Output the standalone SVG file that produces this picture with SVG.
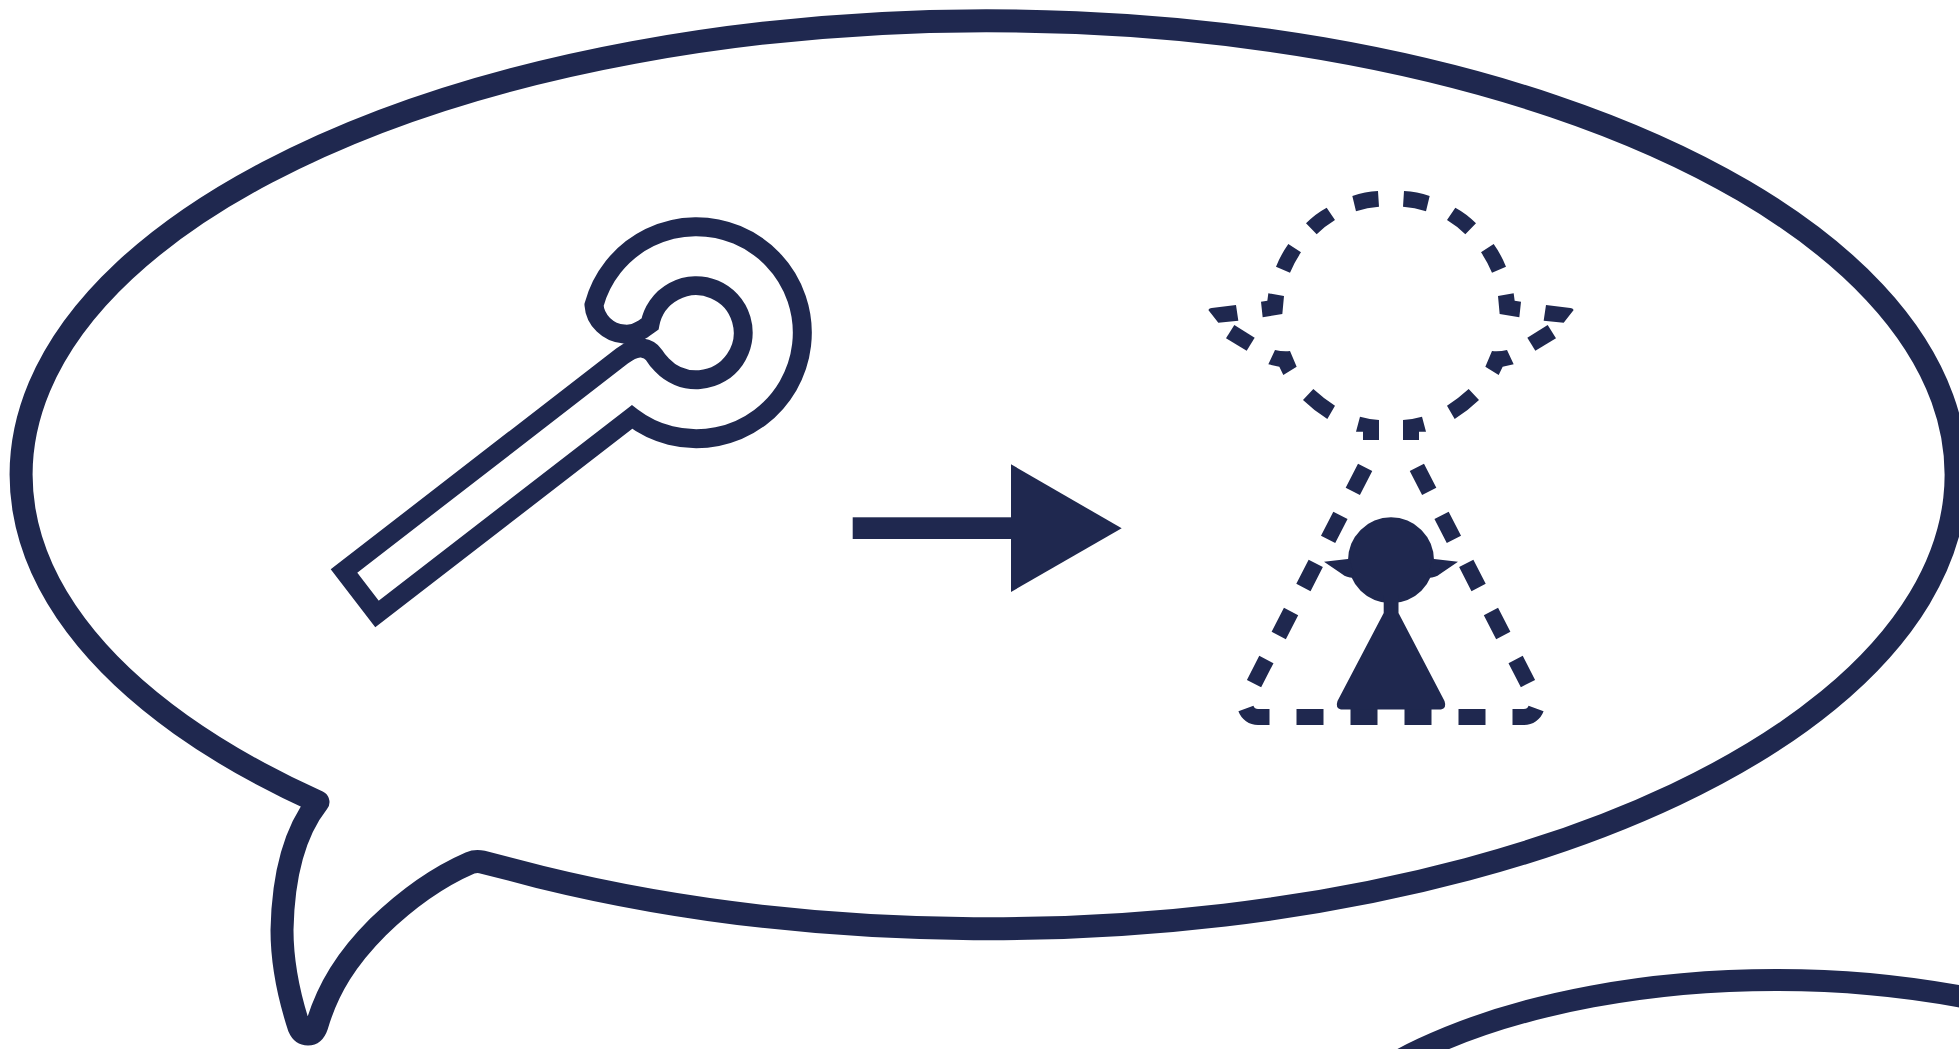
<svg xmlns="http://www.w3.org/2000/svg" width="1959" height="1049" viewBox="0 0 1959 1049">
<style>
.line{fill:none;stroke:#1f284f}
.solid{fill:#1f284f;stroke:none}
.dash{fill:none;stroke:#1f284f;stroke-width:16;stroke-dasharray:27 27;stroke-dashoffset:40.5}
</style>
<defs>
<g id="halfOutline">
<path class="dash" d="M1391 717H1258A13 13 0 0 1 1246.600 698L1365.700 466.300"/>
<g class="solid" transform="translate(1180 170) scale(.33333)">
<path d="M540 740Q568 748 597 750V810H549V785H528Z"/>
<path d="M400 657Q428 683 465 707L442 747Q402 722 369 690Z"/>
<path d="M285 540Q307 545 330 543L350 590L310 615L298 590L265 583Z"/>
<path d="M163 465L224 503L200 542L138 505Z"/>
<path d="M85 420Q88 414 95 414L168 405L175 452L115 458Z"/>
<path d="M265 370L312 378L307 432L248 442L243 395L262 392Z"/>
<path d="M325 222L363 247Q343 277 330 308L288 290Q303 253 325 222Z"/>
<path d="M440 113L465 150Q435 168 410 193L378 160Q405 132 440 113Z"/>
<path d="M517 78Q555 65 594 63L597 110Q562 112 528 124Z"/>
</g>
</g>
</defs>
<rect width="1959" height="1049" fill="#fff"/>
<g id="bubble-main">
<path class="line" stroke-width="23" stroke-linejoin="round" d="M540 877L482 862Q476 860.500 470 863C440 876 409 897 378 927C347 958 328 988 317 1025Q314 1034 308 1034Q302 1034 299 1027C287 990 282 960 282 930C283 880 292 835 318 802A967.500 454 0 1 1 540 877Z"/>
</g>
<g id="bubble-second">
<ellipse class="line" stroke-width="22" cx="1776" cy="1215" rx="500" ry="235"/>
</g>
<g id="key">
<path class="line" stroke-width="19" stroke-miterlimit="10" d="M632 417L377 614L344 571L622 356Q634 347 642 348Q650 349 654 355Q657 360 662 365A47 47 0 1 0 650 324L643 329Q634 335 624 334C608 333 595 320 594 305A106 106 0 1 1 632 417Z"/>
</g>
<g id="arrow">
<rect class="solid" x="852.700" y="517.300" width="160" height="21.700"/>
<path class="solid" d="M1011 464.300L1121.700 528.300L1011 592Z"/>
</g>
<g id="person">
<g id="person-outline">
<use href="#halfOutline"/>
<use href="#halfOutline" transform="translate(2782 0) scale(-1 1)"/>
</g>
<g id="person-figure">
<circle class="solid" cx="1391" cy="560.300" r="43"/>
<path class="solid" d="M1324 561.700L1350 558.700L1354 577.700Q1347 578 1342 574Z"/>
<path class="solid" d="M1458 561.700L1432 558.700L1428 577.700Q1435 578 1440 574Z"/>
<path class="solid" d="M1383.700 595V613L1337.500 701Q1335 708 1341 709.500H1441Q1447 708 1444.500 701L1398.500 613V595Z"/>
</g>
</g>
</svg>
